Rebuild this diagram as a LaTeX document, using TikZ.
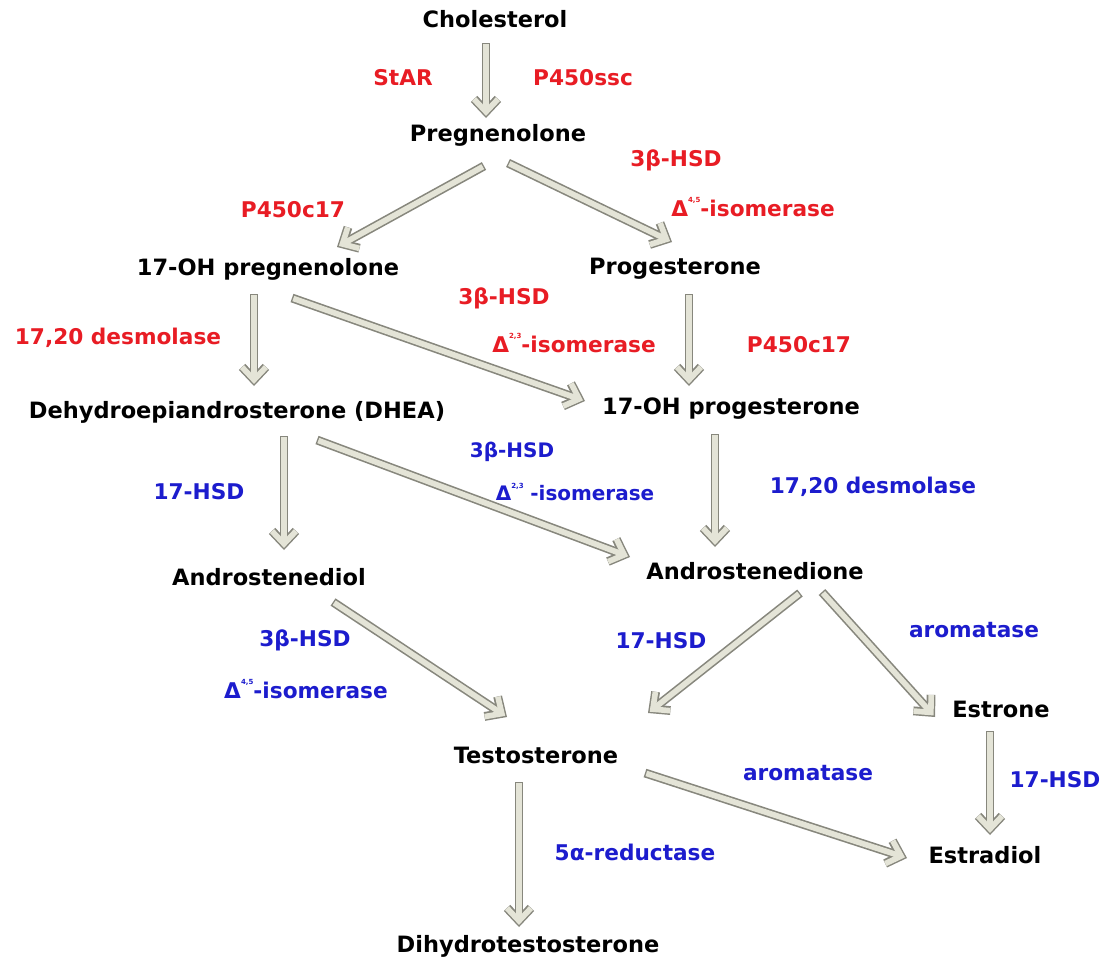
\documentclass[tikz,border=0pt]{standalone}
\usepackage{fontspec}
\setmainfont{DejaVu Sans}
\usepackage{tikz}
\usetikzlibrary{arrows.meta}

\definecolor{enzred}{RGB}{232,28,36}
\definecolor{enzblue}{RGB}{28,28,205}
\definecolor{shaftfill}{RGB}{228,228,215}
\definecolor{shaftline}{RGB}{135,135,125}

\newcommand{\isosup}[1]{\raisebox{1.15ex}{\fontsize{5}{6}\selectfont #1}}

\begin{document}
\begin{tikzpicture}[x=0.025cm,y=-0.025cm]
\tikzstyle{every node} = [inner sep=0pt,font=\bfseries\fontsize{16}{19}\selectfont]
\tikzstyle{redlab} = [text=enzred,font=\bfseries\fontsize{15.4}{18}\selectfont]
\tikzstyle{bluelab} = [text=enzblue,font=\bfseries\fontsize{15.4}{18}\selectfont]
\tikzstyle{smallblue} = [text=enzblue,font=\bfseries\fontsize{14.2}{16}\selectfont]
\tikzstyle{flow} = [draw=shaftfill,line width=4pt,
  -{Straight Barb[length=9pt,width=17pt,sharp]},
  shorten >=1.5pt,shorten <=1pt,
  preaction={draw=shaftline,line width=6.3pt,shorten >=0pt,shorten <=0pt}]
\useasboundingbox (0,0) rectangle (1103,963);
% compounds
\node (chol) at (495,19) {Cholesterol};
\node (preg) at (498,135) {Pregnenolone};
\node (ohpreg) at (268,269) {17-OH pregnenolone};
\node (prog) at (675,269) {Progesterone};
\node (dhea) at (237,412) {Dehydroepiandrosterone (DHEA)};
\node (ohprog) at (731,409) {17-OH progesterone};
\node (adiol) at (269,577) {Androstenediol};
\node (adione) at (755,571) {Androstenedione};
\node (estrone) at (1001,709) {Estrone};
\node (testo) at (536,755) {Testosterone};
\node (estradiol) at (985,855) {Estradiol};
\node (dht) at (528,946) {Dihydrotestosterone};
% enzymes
\node[redlab] (star) at (403,78) {StAR};
\node[redlab] (scc) at (583,78) {P450ssc};
\node[redlab] (hsdA) at (676,160) {3β-HSD};
\node[redlab] (isoA) at (753,207) {Δ\isosup{4,5}-isomerase};
\node[redlab] (cyA) at (293,210) {P450c17};
\node[redlab] (hsdB) at (504,298) {3β-HSD};
\node[redlab] (isoB) at (574,343) {Δ\isosup{2,3}-isomerase};
\node[redlab] (desA) at (118,338) {17,20 desmolase};
\node[redlab] (cyB) at (799,345) {P450c17};
\node[smallblue] (hsdC) at (512,452) {3β-HSD};
\node[smallblue] (isoC) at (575,492) {Δ\isosup{2,3}\,\,-isomerase};
\node[bluelab] (hsd17A) at (199,492) {17-HSD};
\node[bluelab] (desB) at (873,487) {17,20 desmolase};
\node[bluelab] (hsdD) at (305,640) {3β-HSD};
\node[bluelab] (isoD) at (306,689) {Δ\isosup{4,5}-isomerase};
\node[bluelab] (hsd17B) at (661,641) {17-HSD};
\node[bluelab] (aroA) at (974,630) {aromatase};
\node[bluelab] (aroB) at (808,773) {aromatase};
\node[bluelab] (hsd17C) at (1055,780) {17-HSD};
\node[bluelab] (red5) at (635,852) {5α-reductase};
% reactions
\draw[flow] ([shift={(-9,24)}]chol.center) -- ([shift={(-12,-17)}]preg.center);
\draw[flow] ([shift={(-14,31)}]preg.center) -- ([shift={(69,-22)}]ohpreg.center);
\draw[flow] ([shift={(10,28)}]preg.center) -- ([shift={(-3,-27)}]prog.center);
\draw[flow] ([shift={(-14,25)}]ohpreg.center) -- ([shift={(17,-26)}]dhea.center);
\draw[flow] ([shift={(24,29)}]ohpreg.center) -- ([shift={(-146,-8)}]ohprog.center);
\draw[flow] ([shift={(14,25)}]prog.center) -- ([shift={(-42,-23)}]ohprog.center);
\draw[flow] ([shift={(47,24)}]dhea.center) -- ([shift={(15,-27)}]adiol.center);
\draw[flow] ([shift={(80,28)}]dhea.center) -- ([shift={(-125,-14)}]adione.center);
\draw[flow] ([shift={(-16,25)}]ohprog.center) -- ([shift={(-40,-24)}]adione.center);
\draw[flow] ([shift={(64,25)}]adiol.center) -- ([shift={(-29,-38)}]testo.center);
\draw[flow] ([shift={(45,22)}]adione.center) -- ([shift={(112,-42)}]testo.center);
\draw[flow] ([shift={(67,21)}]adione.center) -- ([shift={(-66,8)}]estrone.center);
\draw[flow] ([shift={(-11,22)}]estrone.center) -- ([shift={(5,-20)}]estradiol.center);
\draw[flow] ([shift={(109,18)}]testo.center) -- ([shift={(-78,3)}]estradiol.center);
\draw[flow] ([shift={(-17,27)}]testo.center) -- ([shift={(-9,-19)}]dht.center);
\end{tikzpicture}
\end{document}
